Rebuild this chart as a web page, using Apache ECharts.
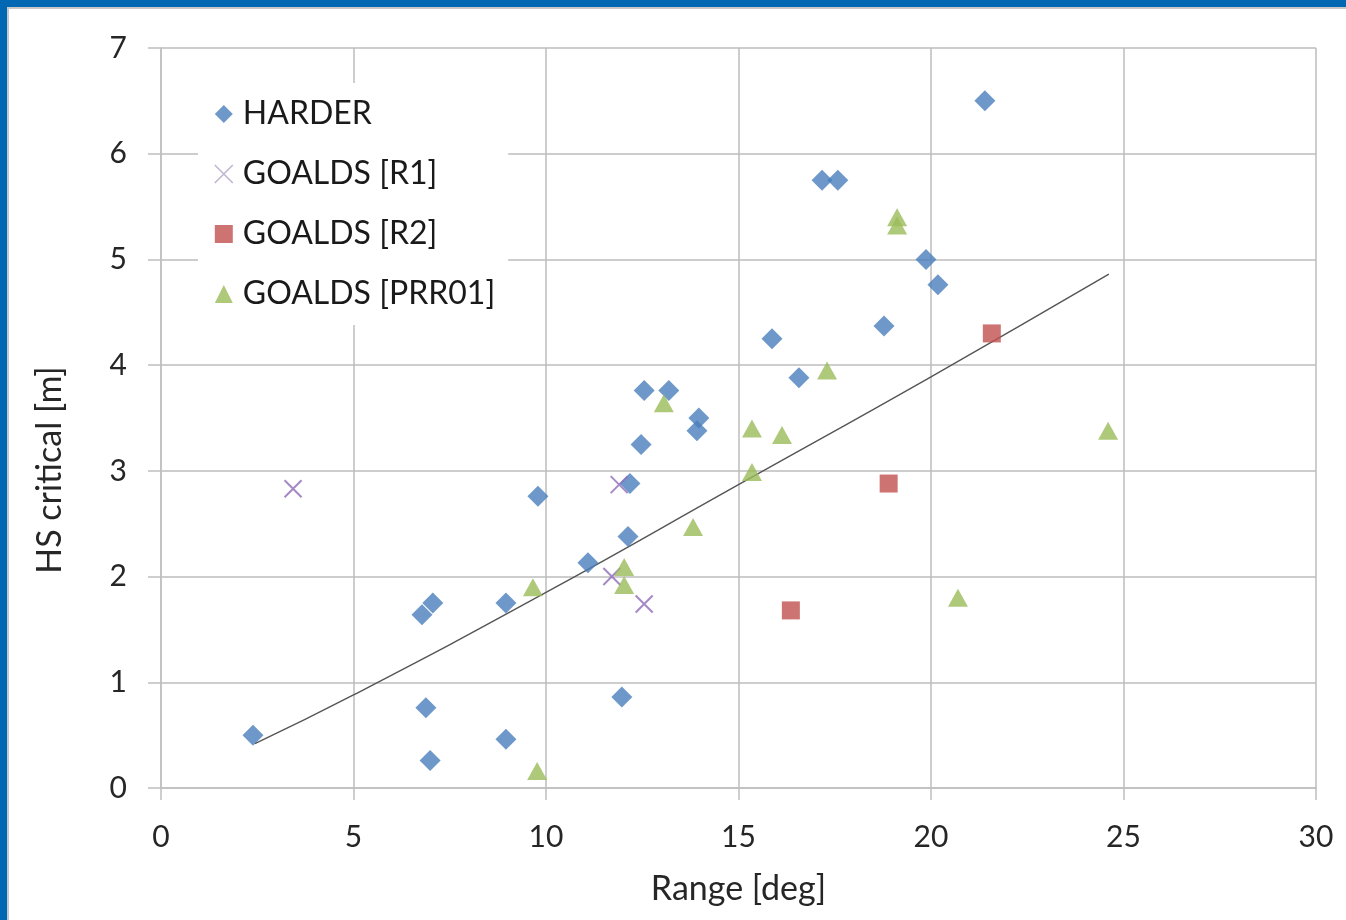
<!DOCTYPE html>
<html>
<head>
<meta charset="utf-8">
<script src="https://cdn.jsdelivr.net/npm/echarts@6/dist/echarts.min.js"></script>
<style>
  html, body { margin: 0; padding: 0; background: #ffffff; }
  #chart { width: 1346px; height: 920px; }
</style>
</head>
<body>
<div id="chart"></div>
<script>
// ---- data ----
const xTicks = [0, 5, 10, 15, 20, 25, 30];
const yTicks = [0, 1, 2, 3, 4, 5, 6, 7];

const harder = [
  [2.39, 0.50], [21.40, 6.50], [17.17, 5.75], [17.58, 5.75], [19.87, 5.00],
  [20.18, 4.76], [18.78, 4.37], [15.87, 4.25], [16.57, 3.88], [12.55, 3.76],
  [13.19, 3.76], [13.97, 3.50], [13.92, 3.38], [12.47, 3.25], [12.18, 2.88],
  [9.79, 2.76], [12.13, 2.38], [11.09, 2.13], [8.96, 1.75], [7.06, 1.75],
  [6.78, 1.64], [6.88, 0.76], [6.99, 0.26], [8.96, 0.46], [11.97, 0.86]
];
const goaldsR1 = [
  [3.43, 2.83], [11.90, 2.87], [11.71, 2.00], [12.55, 1.74]
];
const goaldsR2 = [
  [21.58, 4.30], [18.90, 2.88], [16.36, 1.68]
];
const goaldsPRR01 = [
  [19.12, 5.40], [19.12, 5.32], [17.30, 3.95], [13.06, 3.64], [15.35, 3.40],
  [16.13, 3.34], [15.35, 2.99], [13.82, 2.47], [12.03, 2.09], [12.03, 1.92],
  [9.66, 1.90], [9.77, 0.16], [20.70, 1.80], [24.60, 3.38]
];
const trend = [
  [2.44, 0.42], [5, 0.88], [10, 1.85], [15, 2.87], [20, 3.89], [24.62, 4.86]
];

const FONT = 'Lato, "Open Sans", "Noto Sans", sans-serif';
const crossPath = 'path://M0,0L10,10M10,0L0,10';

const chart = echarts.init(document.getElementById('chart'), null, { renderer: 'canvas' });
chart.setOption({
  backgroundColor: '#ffffff',
  animation: false,
  textStyle: { fontFamily: FONT },
  graphic: [
    { type: 'rect', left: 0, top: 7, shape: { width: 1346, height: 2 }, style: { fill: '#c8c8c8' }, z: 100 },
    { type: 'rect', left: 7, top: 0, shape: { width: 2, height: 920 }, style: { fill: '#c8c8c8' }, z: 100 },
    { type: 'rect', left: 0, top: 0, shape: { width: 1346, height: 7 }, style: { fill: '#0068b2' }, z: 101 },
    { type: 'rect', left: 0, top: 0, shape: { width: 7, height: 920 }, style: { fill: '#0068b2' }, z: 101 }
  ],
  grid: { left: 161, right: 30, top: 48, bottom: 132, containLabel: false },
  legend: {
    data: [
      { name: 'HARDER', icon: 'diamond', itemStyle: { color: '#4a7ebb' } },
      { name: 'GOALDS [R1]', icon: crossPath, itemStyle: { color: 'rgba(0,0,0,0)', borderColor: '#b3a2c7', borderWidth: 1.6 } },
      { name: 'GOALDS [R2]', icon: 'rect', itemStyle: { color: '#c0504d' } },
      { name: 'GOALDS [PRR01]', icon: 'triangle', itemStyle: { color: '#9bbb59' } }
    ],
    orient: 'vertical',
    left: 198,
    top: 83,
    padding: [15, 13, 15, 16],
    itemWidth: 18,
    itemHeight: 18,
    itemGap: 28,
    backgroundColor: '#ffffff',
    textStyle: { fontFamily: FONT, fontSize: 32, color: '#1a1a1a', lineHeight: 30, padding: [0, 0, 0, 5] }
  },
  xAxis: {
    type: 'value', min: 0, max: 30, interval: 5,
    name: 'Range [deg]', nameLocation: 'middle', nameGap: 84,
    nameTextStyle: { fontFamily: FONT, fontSize: 34, color: '#262626' },
    axisLine: { show: true, lineStyle: { color: '#bfbfbf', width: 1.5 } },
    axisTick: { show: true, length: 12, lineStyle: { color: '#bfbfbf', width: 1.5 } },
    axisLabel: { fontFamily: FONT, fontSize: 30, color: '#262626', margin: 34 },
    splitLine: { show: true, lineStyle: { color: '#bdbdbd', width: 1.5 } }
  },
  yAxis: {
    type: 'value', min: 0, max: 7, interval: 1,
    name: 'HS critical [m]', nameLocation: 'middle', nameGap: 94,
    nameTextStyle: { fontFamily: FONT, fontSize: 34, color: '#262626', padding: [0, 104, 0, 0] },
    axisLine: { show: true, lineStyle: { color: '#bfbfbf', width: 1.5 } },
    axisTick: { show: true, length: 13, lineStyle: { color: '#bfbfbf', width: 1.5 } },
    axisLabel: { fontFamily: FONT, fontSize: 30, color: '#262626', margin: 34 },
    splitLine: { show: true, lineStyle: { color: '#bdbdbd', width: 1.5 } }
  },
  series: [
    {
      name: 'trend', type: 'line', data: trend, smooth: true, showSymbol: false,
      lineStyle: { color: '#555555', width: 1.4 }, z: 3, silent: true
    },
    {
      name: 'HARDER', type: 'scatter', data: harder, symbol: 'diamond', symbolSize: [21, 21],
      itemStyle: { color: '#4a7ebb' }, z: 4
    },
    {
      name: 'GOALDS [R1]', type: 'scatter', data: goaldsR1, symbol: crossPath, symbolSize: 17,
      itemStyle: { color: 'rgba(0,0,0,0)', borderColor: '#8e6bb8', borderWidth: 2 }, z: 4
    },
    {
      name: 'GOALDS [R2]', type: 'scatter', data: goaldsR2, symbol: 'rect', symbolSize: 18,
      itemStyle: { color: '#c0504d' }, z: 4
    },
    {
      name: 'GOALDS [PRR01]', type: 'scatter', data: goaldsPRR01, symbol: 'triangle', symbolSize: [20, 18],
      itemStyle: { color: '#9bbb59' }, z: 4
    }
  ]
});
</script>
</body>
</html>
